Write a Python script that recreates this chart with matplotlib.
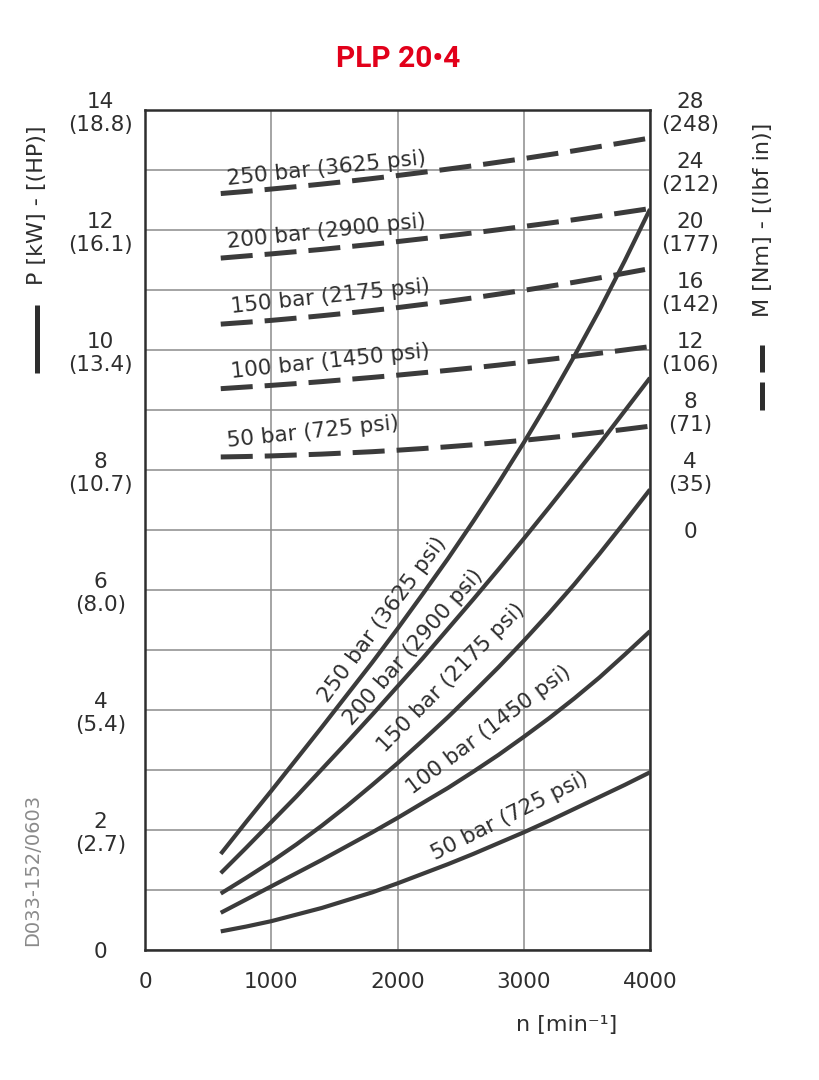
import numpy as np
import matplotlib
matplotlib.use("Agg")
import matplotlib.pyplot as plt
from matplotlib.lines import Line2D
from matplotlib import font_manager

# ---------------- data ----------------
n_rpm = [600, 800, 1000, 1200, 1400, 1600, 1800, 2000, 2200, 2400,
         2600, 2800, 3000, 3200, 3400, 3600, 3800, 4000]

# power P [kW] (solid curves)
P_250 = [1.60, 2.13, 2.65, 3.18, 3.71, 4.25, 4.79, 5.35, 5.93, 6.52,
         7.14, 7.78, 8.45, 9.15, 9.89, 10.66, 11.48, 12.34]
P_200 = [1.28, 1.70, 2.13, 2.56, 3.01, 3.46, 3.92, 4.39, 4.86, 5.35,
         5.84, 6.34, 6.85, 7.37, 7.90, 8.43, 8.98, 9.53]
P_150 = [0.94, 1.20, 1.47, 1.76, 2.07, 2.40, 2.75, 3.11, 3.49, 3.88,
         4.29, 4.71, 5.15, 5.61, 6.09, 6.60, 7.13, 7.67]
P_100 = [0.62, 0.84, 1.06, 1.28, 1.50, 1.73, 1.96, 2.20, 2.45, 2.70,
         2.97, 3.25, 3.55, 3.86, 4.19, 4.54, 4.92, 5.31]
P_50 = [0.31, 0.39, 0.48, 0.59, 0.70, 0.83, 0.96, 1.11, 1.27, 1.43,
        1.60, 1.78, 1.96, 2.15, 2.35, 2.55, 2.75, 2.96]

# torque M [Nm] (dashed curves)
M_250 = [22.40, 22.54, 22.70, 22.86, 23.03, 23.21, 23.40, 23.60, 23.81, 24.03,
         24.25, 24.49, 24.73, 24.99, 25.25, 25.53, 25.81, 26.10]
M_200 = [18.10, 18.24, 18.38, 18.53, 18.68, 18.85, 19.02, 19.20, 19.39, 19.58,
         19.78, 19.99, 20.21, 20.43, 20.66, 20.90, 21.15, 21.40]
M_150 = [13.70, 13.82, 13.95, 14.10, 14.26, 14.43, 14.61, 14.80, 15.01, 15.22,
         15.45, 15.70, 15.95, 16.22, 16.49, 16.78, 17.09, 17.40]
M_100 = [9.40, 9.51, 9.62, 9.74, 9.87, 10.01, 10.15, 10.30, 10.46, 10.62,
         10.79, 10.97, 11.16, 11.35, 11.55, 11.76, 11.98, 12.20]
M_50 = [4.85, 4.88, 4.92, 4.98, 5.04, 5.12, 5.20, 5.30, 5.41, 5.53,
        5.66, 5.81, 5.96, 6.13, 6.30, 6.49, 6.69, 6.90]

pressures_bar = [250, 200, 150, 100, 50]
pressures_psi = [3625, 2900, 2175, 1450, 725]

x_ticks = [0, 1000, 2000, 3000, 4000]
kw_ticks = [0, 2, 4, 6, 8, 10, 12, 14]
hp_labels = ["", "2.7", "5.4", "8.0", "10.7", "13.4", "16.1", "18.8"]
nm_ticks = [0, 4, 8, 12, 16, 20, 24, 28]
lbfin_labels = ["", "35", "71", "106", "142", "177", "212", "248"]

title = "PLP 20\u20224"

# ---------------- layout / style ----------------
names = {f.name for f in font_manager.fontManager.ttflist}
if "Liberation Sans Narrow" in names:
    title_family, title_size = ["Liberation Sans Narrow", "DejaVu Sans"], 25
else:
    title_family, title_size = ["Roboto", "DejaVu Sans"], 21.5

plt.rcParams["font.family"] = ["DejaVu Sans"]
INK = "#2e2e2e"
CURVE = "#3b3b3b"
GRID = "#8c8c8c"
TICK_FS = 15.5

W, H = 819, 1080
fig = plt.figure(figsize=(W / 100, H / 100), dpi=100)
fig.patch.set_facecolor("white")
L, R, T, B = 145, 650, 109.5, 950
ax = fig.add_axes([L / W, 1 - B / H, (R - L) / W, (B - T) / H])
ax.set_xlim(0, 4000)
ax.set_ylim(0, 14)

power_sets = [P_250, P_200, P_150, P_100, P_50]
torque_sets = [M_250, M_200, M_150, M_100, M_50]

for P in power_sets:
    ax.plot(n_rpm, P, color=CURVE, lw=3.0, solid_capstyle="butt",
            solid_joinstyle="round", zorder=3)

ax.set_xticks(x_ticks)
ax.set_xticklabels([str(v) for v in x_ticks])
ax.set_yticks(kw_ticks)
ax.set_yticklabels([f"{k}\n({h})" if h else f"{k}" for k, h in zip(kw_ticks, hp_labels)])
ax.set_yticks(np.arange(0, 15, 1), minor=True)
ax.grid(which="both", color=GRID, lw=1.1)
ax.set_axisbelow(True)
ax.tick_params(axis="both", which="both", length=0, labelsize=TICK_FS, labelcolor=INK)
ax.tick_params(axis="y", pad=32)
ax.tick_params(axis="x", pad=16)
for lab in ax.get_yticklabels():
    lab.set_horizontalalignment("center")
    lab.set_multialignment("center")
for s in ax.spines.values():
    s.set_linewidth(1.8)
    s.set_color(INK)

ax2 = ax.twinx()
ax2.set_ylim(-28, 28)
for M in torque_sets:
    ax2.plot(n_rpm, M, color=CURVE, lw=3.6, linestyle=(0, (6.4, 2.4)),
             dash_capstyle="butt", dash_joinstyle="round", zorder=3)
ax2.set_yticks(nm_ticks)
ax2.set_yticklabels([f"{k}\n({h})" if h else f"{k}" for k, h in zip(nm_ticks, lbfin_labels)])
ax2.tick_params(axis="y", length=0, labelsize=TICK_FS, labelcolor=INK, pad=29)
for lab in ax2.get_yticklabels():
    lab.set_horizontalalignment("center")
    lab.set_multialignment("center")
for s in ax2.spines.values():
    s.set_visible(False)

# curve labels (power, along solid curves)
p_lab_pos = [(1449, 4.10, 53.5), (1639, 3.73, 48.8), (1900, 3.28, 45.4),
             (2122, 2.58, 37.0), (2296, 1.50, 26.7)]
for (x, y, rot), pb, ps in zip(p_lab_pos, pressures_bar, pressures_psi):
    ax.text(x, y, f"{pb} bar ({ps} psi)", rotation=rot, rotation_mode="anchor",
            ha="left", va="baseline", fontsize=15.5, color=INK, zorder=4)

# curve labels (torque, above dashed curves)
m_lab_pos = [(657, 23.0), (657, 18.8), (689, 14.47), (689, 10.13), (657, 5.53)]
for (x, y), pb, ps in zip(m_lab_pos, pressures_bar, pressures_psi):
    ax2.text(x, y, f"{pb} bar ({ps} psi)", rotation=6, rotation_mode="anchor",
             ha="left", va="baseline", fontsize=15.5, color=INK, zorder=4)

# axis titles
fig.text(567 / W, 1 - 1025 / H, "n [min\u207b\u00b9]", ha="center", va="center",
         fontsize=16, color=INK)
fig.text(37 / W, 1 - 205 / H, "P [kW] - [(HP)]", rotation=90, ha="center", va="center",
         fontsize=16, color=INK)
fig.add_artist(Line2D([37 / W, 37 / W], [1 - 305 / H, 1 - 373 / H], lw=3.6,
                      color=INK, transform=fig.transFigure, solid_capstyle="butt"))
fig.text(763 / W, 1 - 220 / H, "M [Nm] - [(lbf in)]", rotation=90, ha="center", va="center",
         fontsize=16, color=INK)
for y0, y1 in [(345, 372), (382, 410)]:
    fig.add_artist(Line2D([762 / W, 762 / W], [1 - y0 / H, 1 - y1 / H], lw=3.6,
                          color=INK, transform=fig.transFigure, solid_capstyle="butt"))

fig.text(33 / W, 1 - 870 / H, "D033-152/0603", rotation=90, ha="center", va="center",
         fontsize=14, color="#8a8a8a")

fig.text(398 / W, 1 - 59 / H, title, ha="center", va="center", fontsize=title_size,
         fontweight="bold", color="#e2001a", family=title_family)

fig.savefig("out.png", dpi=100)
